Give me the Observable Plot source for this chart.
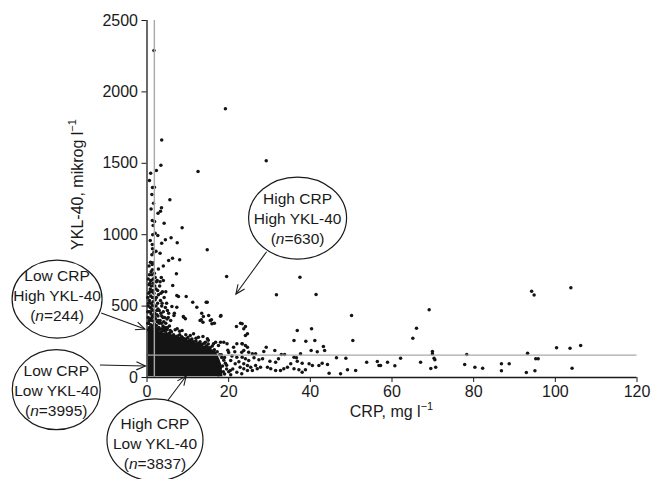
<!DOCTYPE html>
<html>
<head>
<meta charset="utf-8">
<script src="https://cdn.jsdelivr.net/npm/d3@7"></script>
<script src="https://cdn.jsdelivr.net/npm/@observablehq/plot@0.6"></script>
<style>
  html, body { margin: 0; padding: 0; background: #fff; }
  #chart { width: 657px; height: 479px; }
</style>
</head>
<body>
<div id="chart"></div>
<script>
// ---------- data ----------
const xTicks = [0, 20, 40, 60, 80, 100, 120];
const yTicks = [0, 500, 1000, 1500, 2000, 2500];
const crpCutoff = 1.8;     // mg/l
const yklCutoff = 157;     // µg/l

// saturated (solid black) core of the cloud
const coreCRP  = [0.3, 2.2, 3, 4, 5, 6, 7, 8, 9, 10, 11, 12, 13, 14, 15, 16, 16.6, 17.2, 17.8, 18.3, 18.6];
const coreTop  = [340, 330, 322, 312, 316, 300, 296, 282, 285, 262, 266, 242, 246, 218, 222, 192, 196, 165, 130, 90, 20];
const coreBase = coreCRP.map(() => 5);

// sparse high points
const highPoints = [[1.7,2290],[19.2,1882],[3.6,1664],[29.2,1517],[3.4,1487],[2.3,1450],[0.9,1431],[12.5,1443],[1.35,1330],[1.8,1333],[1.2,1282],[5.6,1244],[3.55,1188],[3.3,1165],[1.3,1100],[1.85,1092],[1.5,1064],[8.6,1048],[1.4,999],[2.65,994],[5.9,978],[4.5,964],[3.6,940],[7.4,943],[1.3,931],[1.35,901],[14.75,894],[2.2,884],[1.7,877],[3.2,870],[6.25,835],[5.3,819],[8.0,824],[0.85,807],[1.5,803],[1.3,791],[4.0,780],[1.3,754],[7.2,726],[1.2,720],[1.5,690],[0.9,680],[3.5,700],[4.0,680],[3.2,670],[2.3,670],[19.5,707],[37.45,702],[31.7,579],[41.4,581],[50.1,434],[69.1,474],[66.0,345],[65.1,275],[94.2,604],[94.8,577],[103.8,628],[14.75,527]];

// dense column at low CRP
const columnPoints = [[0.3,690],[0.5,650],[0.8,620],[1.1,640],[1.4,610],[0.4,590],[0.9,570],[1.3,560],[1.7,590],[0.6,540],[1.0,520],[1.5,530],[2.0,545],[0.3,500],[0.8,490],[1.2,480],[1.6,470],[2.2,500],[0.5,460],[1.0,445],[1.4,430],[1.9,450],[0.3,420],[0.7,410],[1.1,400],[1.6,395],[2.1,410],[0.4,380],[0.9,370],[1.3,360],[1.8,375],[2.3,365],[0.6,350],[1.1,345],[1.5,340],[2.0,350],[0.2,560],[0.2,460],[0.2,380],[2.4,440],[2.6,520],[2.5,390],[1.2,600],[0.7,660],[1.5,660],[2.2,620],[2.8,580],[3.0,470],[2.7,430],[3.2,400],[3.5,380],[2.9,350],[3.3,540],[3.6,500],[4.0,460],[4.3,420],[3.8,600],[4.2,560],[4.8,520],[5.0,470],[4.6,380],[5.2,420],[3.9,360],[4.4,340],[5.5,360],[5.8,400],[3.1,640],[2.5,680],[1.0,740],[1.8,730],[0.5,780],[2.8,760],[1.2,860],[0.8,960],[2.0,1010],[1.0,1180],[1.6,1220],[0.6,1380],[2.7,1150],[4.2,1080],[0.4,335],[0.9,338],[1.4,332],[1.9,336],[2.4,340],[2.9,335],[3.4,340],[3.9,345],[4.4,350],[4.9,345],[0.6,400],[1.9,420],[2.4,470],[3.4,450],[3.9,420],[4.1,390],[3.0,380],[2.7,480],[1.3,505],[0.4,520],[1.8,500],[2.3,560],[0.7,600],[1.6,560],[1.9,640],[1.0,680],[2.6,610],[3.4,590],[4.6,600],[2.0,700],[0.6,720],[4.5,490],[5.3,450],[3.7,520],[1.7,440],[0.9,460],[1.2,420],[2.8,400],[3.6,430],[4.9,410]];

// points around the edge of the core, CRP 4-24
const midPoints = [[6.3,644],[7.3,574],[7.7,567],[9.6,567],[11.2,527],[14.5,527],[6.1,497],[7.3,492],[12.2,492],[6.7,450],[8.9,427],[9.4,411],[13.4,450],[13.8,427],[15.1,434],[13.0,399],[13.7,387],[15.5,399],[15.9,376],[18.1,434],[22.9,380],[21.9,357],[24.1,357],[4.0,329],[4.9,334],[5.7,329],[6.9,334],[8.0,324],[10.6,294],[11.4,306],[12.6,282],[13.7,287],[14.3,247],[16.3,236],[17.5,224],[18.8,247],[19.6,236],[21.2,212],[22.0,236],[23.2,177],[22.0,142],[20.5,119],[21.6,96],[22.8,72],[20.4,49],[22.0,37],[23.2,26],[7.4,341],[8.6,329],[14.8,271],[16.8,247],[18.0,247],[23.3,236],[6.6,434],[9.0,422],[13.3,405],[15.8,405],[16.5,380],[18,429],[2.5,330],[3.5,320],[4.5,325],[5.5,310],[6.5,300],[7.5,290],[8.5,285],[9.5,270],[10.5,262],[11.5,250],[12.5,240],[13.5,232],[14.5,222],[15.5,210],[16.5,195],[17.2,180],[17.8,160],[18.3,140],[18.8,120],[19.2,100],[18.5,80],[19.5,60],[20,40],[19,25],[17.5,20],[16.8,120],[17,60],[6,320],[8,300],[10,280],[12,255],[14,240],[16,220],[11,270],[13,250],[15,235],[17.5,100],[18,70],[18.7,40],[19.5,85],[20.5,20],[19,140],[18.2,160],[20,175],[21,60],[22.5,110],[19.8,190],[20.8,150],[21.5,180],[9.5,300],[12,275],[5,350],[15,260]];

// cluster CRP 23-28
const clusterPoints = [[23.3,376],[23.7,341],[24.1,294],[24.6,306],[23.3,236],[24.1,224],[24.6,212],[23.7,189],[24.9,177],[25.8,166],[26.6,166],[23.3,142],[24.1,131],[24.9,119],[26.2,138],[27.4,124],[23.7,96],[24.6,84],[25.4,72],[26.6,84],[23.7,61],[24.6,49],[25.8,49],[27.0,61],[27.8,72]];

// long tail CRP 28-106
const tailPoints = [[36.8,329],[40.3,341],[36.0,259],[38.9,254],[41.1,259],[50.4,259],[43.2,217],[43.5,189],[40.2,189],[41.7,180],[31.3,189],[29.2,212],[28.6,182],[32.9,161],[33.7,161],[37.6,166],[36.0,142],[36.6,138],[46.4,138],[48.7,135],[32.2,131],[30.1,114],[31.5,107],[28.3,131],[36.8,114],[38.0,100],[39.7,96],[40.5,84],[42.9,100],[42.1,84],[44.2,91],[35.2,96],[34.4,72],[33.5,61],[32.7,49],[31.5,49],[30.3,61],[29.5,72],[36.0,61],[37.2,54],[38.0,37],[38.8,54],[44.6,30],[47.4,26],[49.1,54],[51.1,49],[53.8,107],[56.4,112],[56.8,84],[58.9,107],[60.7,82],[62.1,135],[67.0,107],[69.9,182],[69.9,166],[70.3,135],[70.5,124],[69.5,63],[70.7,72],[77.8,91],[78.3,161],[80.3,72],[82.2,65],[86.8,96],[88.7,96],[86.8,47],[93.2,170],[95.2,131],[95.8,131],[92.9,35],[95.0,47],[100.3,208],[103.6,205],[106.2,224],[104.1,65],[57.2,84]];

// annotation bubbles
const bubbleLine1 = ["Low CRP", "Low CRP", "High CRP", "High CRP"];
const bubbleLine2 = ["High YKL-40", "Low YKL-40", "Low YKL-40", "High YKL-40"];
const bubbleN     = ["244", "3995", "3837", "630"];
const bubbleCRP   = [-21.9, -22.1, 2.08, 37.0];
const bubbleYKL   = [546, -89, -441, 1113];
const arrowFromCRP = [-11.1, -11.4, 5.3, 29.4];
const arrowFromYKL = [448, 84, -161, 877];
const arrowToCRP   = [-0.4, -0.25, 9.7, 21.9];
const arrowToYKL   = [336, 77, 7, 581];

// ---------- build ----------
const allPoints = [...columnPoints, ...midPoints, ...clusterPoints, ...tailPoints, ...highPoints];
const core = coreCRP.map((c, i) => ({crp: c, top: coreTop[i], base: coreBase[i]}));

const FONT = "'Liberation Sans', Arial, Helvetica, sans-serif";
const INK = "#1a1a1a";

const plot = Plot.plot({
  width: 657,
  height: 479,
  marginLeft: 146.5,
  marginRight: 20.5,
  marginTop: 20,
  marginBottom: 102,
  style: {fontFamily: FONT, fontSize: "16px", color: INK, background: "#fff", overflow: "visible"},
  x: {domain: [0, 120], ticks: xTicks, tickSize: 5, tickPadding: 3, tickFormat: "d", label: null},
  y: {domain: [0, 2500], ticks: yTicks, tickSize: 5, tickPadding: 4, tickFormat: "d", label: null},
  marks: [
    Plot.areaY(core, {x: "crp", y1: "base", y2: "top", fill: "#141414"}),
    Plot.dot(allPoints, {x: d => d[0], y: d => d[1], r: 1.75, fill: "#141414"}),
    Plot.ruleX([crpCutoff], {y1: 0, y2: 2500, stroke: "#a8a8a8", strokeWidth: 1.4}),
    Plot.ruleY([yklCutoff], {x1: 0, x2: 120, stroke: "#a8a8a8", strokeWidth: 1.4}),
    Plot.ruleX([0], {y1: 0, y2: 2500, stroke: INK, strokeWidth: 1.3}),
    Plot.ruleY([0], {x1: 0, x2: 120, stroke: INK, strokeWidth: 1.3})
  ]
});

document.getElementById("chart").appendChild(plot);

// ---------- annotations ----------
const xs = plot.scale("x"), ys = plot.scale("y");
const X = v => xs.apply(v), Y = v => ys.apply(v);
const svg = d3.select(plot);
const ann = svg.append("g").attr("font-family", FONT).attr("fill", INK);

const rxs = [45, 44, 48, 49];
const rys = [39, 40, 41, 41];
const textShift = [-4, 0, 3, 0];

bubbleN.forEach((n, i) => {
  // arrow
  const x1 = X(arrowFromCRP[i]), y1 = Y(arrowFromYKL[i]);
  const x2 = X(arrowToCRP[i]), y2 = Y(arrowToYKL[i]);
  ann.append("line").attr("x1", x1).attr("y1", y1).attr("x2", x2).attr("y2", y2)
    .attr("stroke", INK).attr("stroke-width", 1.1);
  const ang = Math.atan2(y2 - y1, x2 - x1);
  const L = 10, a = 0.42;
  const p = [
    [x2 - L * Math.cos(ang - a), y2 - L * Math.sin(ang - a)],
    [x2, y2],
    [x2 - L * Math.cos(ang + a), y2 - L * Math.sin(ang + a)]
  ];
  ann.append("path").attr("d", d3.line()(p)).attr("fill", "none")
    .attr("stroke", INK).attr("stroke-width", 1.1);
  // bubble
  const cx = X(bubbleCRP[i]), cy = Y(bubbleYKL[i]);
  ann.append("ellipse").attr("cx", cx).attr("cy", cy).attr("rx", rxs[i]).attr("ry", rys[i])
    .attr("fill", "#fff").attr("stroke", INK).attr("stroke-width", 1.2);
  const ty = cy + textShift[i];
  const t = ann.append("text").attr("text-anchor", "middle").attr("font-size", 15.5);
  t.append("tspan").attr("x", cx).attr("y", ty - 14).text(bubbleLine1[i]);
  t.append("tspan").attr("x", cx).attr("y", ty + 6).text(bubbleLine2[i]);
  const t3 = t.append("tspan").attr("x", cx).attr("y", ty + 26);
  t3.append("tspan").text("(");
  t3.append("tspan").attr("font-style", "italic").text("n");
  t3.append("tspan").text("=" + n + ")");
});

// axis titles
const xt = ann.append("text").attr("text-anchor", "middle").attr("font-size", 16)
  .attr("x", (X(0) + X(120)) / 2).attr("y", Y(0) + 40);
xt.append("tspan").text("CRP, mg l");
xt.append("tspan").attr("dy", -7).attr("font-size", 11).text("\u22121");

const yt = ann.append("text").attr("text-anchor", "middle").attr("font-size", 16)
  .attr("transform", `translate(${X(0) - 64},${(Y(0) + Y(2500)) / 2 - 14}) rotate(-90)`);
yt.append("tspan").text("YKL-40, mikrog l");
yt.append("tspan").attr("dy", -7).attr("font-size", 11).text("\u22121");
</script>
</body>
</html>
